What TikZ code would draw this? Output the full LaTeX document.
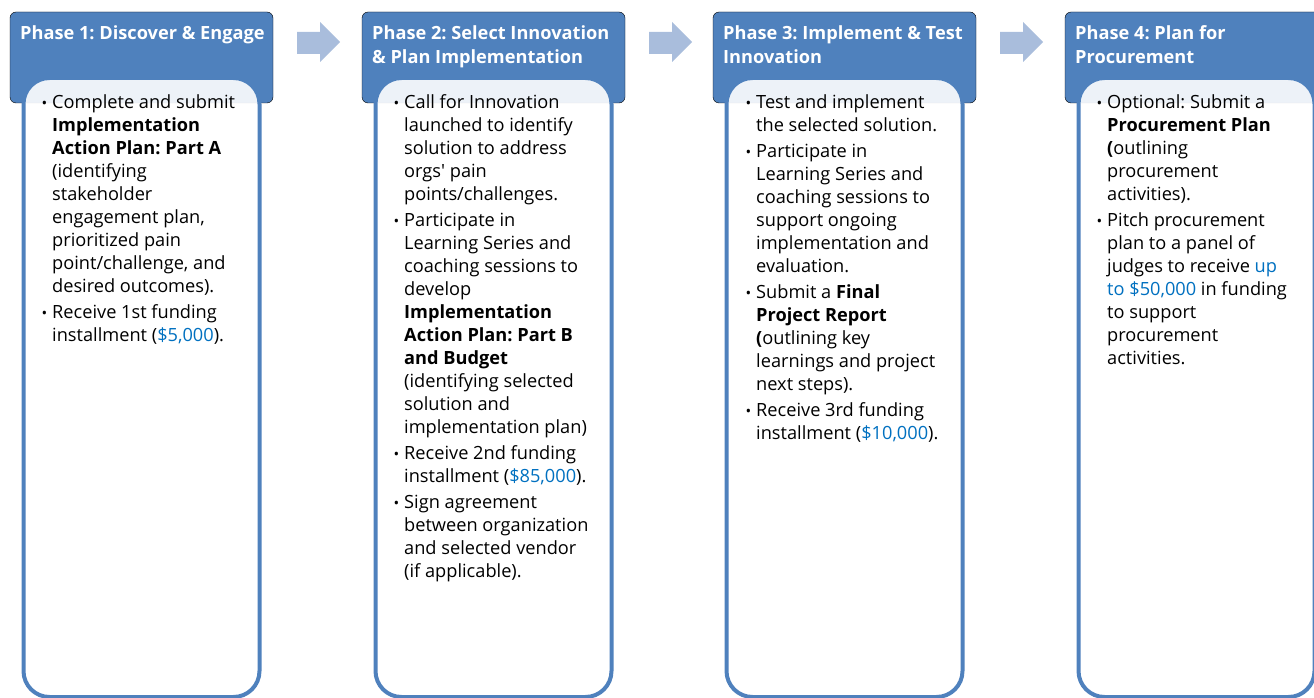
\documentclass[tikz,border=0pt]{standalone}
\usepackage{fontspec}
\setmainfont{Open Sans}
\frenchspacing

\definecolor{phaseblue}{HTML}{4F81BD}
\definecolor{arrowblue}{HTML}{A9BDDC}
\definecolor{moneyblue}{HTML}{0070C0}

\tikzstyle{head} = [fill=phaseblue, rounded corners=6pt]
\tikzstyle{body} = [draw=phaseblue, line width=4pt, fill=white, fill opacity=0.9, rounded corners=26pt]
\tikzstyle{htxt} = [anchor=north west, inner sep=0pt, align=left, text=white, font=\bfseries\fontsize{18.2}{23.5}\selectfont]
\tikzstyle{btxt} = [anchor=north west, inner sep=0pt, align=left, font=\fontsize{18.2}{23}\selectfont]
\tikzstyle{harrow} = [fill=arrowblue]

\newcommand{\bul}{\llap{{\fontsize{15}{15}\selectfont\textbullet}\hspace{5pt}}}
\newcommand{\money}[1]{\textcolor{moneyblue}{#1}}

\begin{document}
\begin{tikzpicture}[x=1pt, y=-1pt]

\useasboundingbox (0,0) rectangle (1314,698);
\clip (0,0) rectangle (1314,698);

% headers and bodies
\foreach \hx in {10, 362, 713, 1065} {%
 \draw[head] (\hx,12) rectangle (\hx+263,103);
 \draw[body] (\hx+13.5,78) rectangle (\hx+249.5,697);
}

% arrows between phases
\foreach \ax in {297, 649, 1000} {%
 \fill[harrow] (\ax,32) -- (\ax+23,32) -- (\ax+23,22) -- (\ax+43,42) -- (\ax+23,62) -- (\ax+23,54) -- (\ax,54) -- cycle;
}

% first baselines: headers at 39.5, bodies at 108.5 (strut height 16.45 / 16.1)
%PHASE1
\node[htxt] (head1) at (20,23) {\strut Phase 1: Discover \& Engage};
\node[btxt] (text1) at (52,92.4) {\strut\bul Complete and submit\\
\textbf{Implementation}\\
\textbf{Action Plan: Part A}\\
(identifying\\
stakeholder\\
engagement plan,\\
prioritized pain\\
point/challenge, and\\
desired outcomes).\\[3pt]
\bul Receive 1st funding\\
installment (\money{\$5,000}).};

%PHASE2
\node[htxt] (head2) at (372,23) {\strut Phase 2: Select Innovation\\
\& Plan Implementation};
\node[btxt] (text2) at (404,92.4) {\strut\bul Call for Innovation\\
launched to identify\\
solution to address\\
orgs\textquotesingle{} pain\\
points/challenges.\\[3pt]
\bul Participate in\\
Learning Series and\\
coaching sessions to\\
develop\\
\textbf{Implementation}\\
\textbf{Action Plan: Part B}\\
\textbf{and Budget}\\
(identifying selected\\
solution and\\
implementation plan)\\[3pt]
\bul Receive 2nd funding\\
installment (\money{\$85,000}).\\[3pt]
\bul Sign agreement\\
between organization\\
and selected vendor\\
(if applicable).};

%PHASE3
\node[htxt] (head3) at (723,23) {\strut Phase 3: Implement \& Test\\
Innovation};
\node[btxt] (text3) at (756,92.4) {\strut\bul Test and implement\\
the selected solution.\\[3pt]
\bul Participate in\\
Learning Series and\\
coaching sessions to\\
support ongoing\\
implementation and\\
evaluation.\\[3pt]
\bul Submit a \textbf{Final}\\
\textbf{Project Report}\\
\textbf{(}outlining key\\
learnings and project\\
next steps).\\[3pt]
\bul Receive 3rd funding\\
installment (\money{\$10,000}).};

%PHASE4
\node[htxt] (head4) at (1075,23) {\strut Phase 4: Plan for\\
Procurement};
\node[btxt] (text4) at (1107,92.4) {\strut\bul Optional: Submit a\\
\textbf{Procurement Plan}\\
\textbf{(}outlining\\
procurement\\
activities).\\[3pt]
\bul Pitch procurement\\
plan to a panel of\\
judges to receive \money{up}\\
\money{to \$50,000} in funding\\
to support\\
procurement\\
activities.};

\end{tikzpicture}
\end{document}
